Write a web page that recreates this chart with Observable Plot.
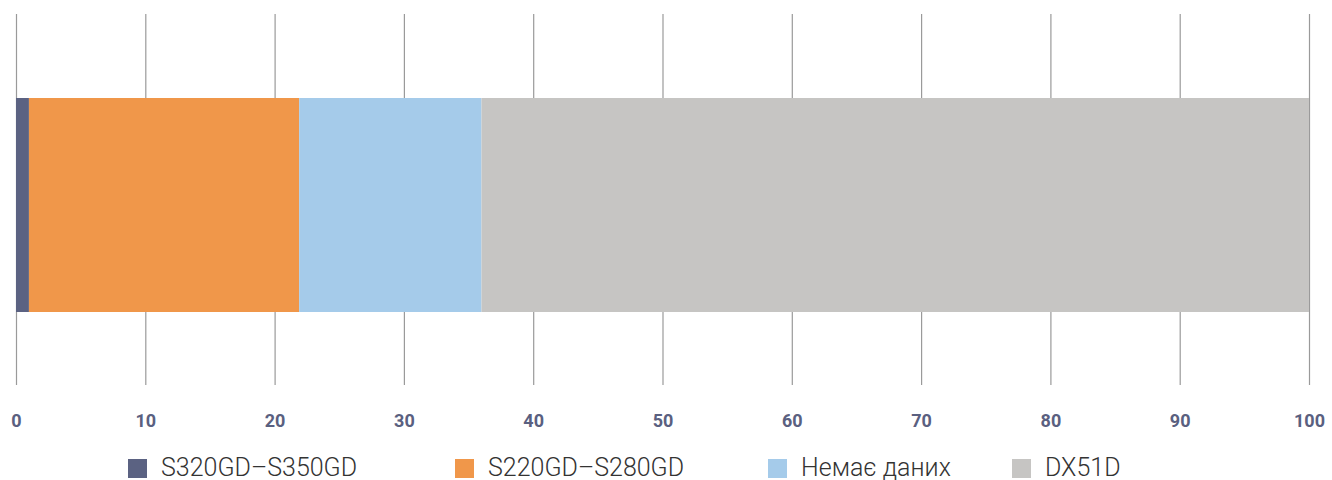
<!DOCTYPE html>
<html>
<head>
<meta charset="utf-8">
<script src="https://cdn.jsdelivr.net/npm/d3@7"></script>
<script src="https://cdn.jsdelivr.net/npm/@observablehq/plot@0.6"></script>
<style>
  body { margin: 0; background: #fff; font-family: Roboto, "DejaVu Sans", sans-serif; }
  #wrap { position: relative; width: 1332px; }
  #legend { position: relative; height: 40px; }
  .item { position: absolute; top: 13px; display: flex; align-items: center; font-size: 25px; line-height: 30px; font-weight: 300; color: #333; }
  .sw { width: 19px; height: 19px; margin-right: 14px; }
</style>
</head>
<body>
<div id="wrap">
  <div id="chart"></div>
  <div id="legend"></div>
</div>
<script>
const categories = ["S320GD–S350GD", "S220GD–S280GD", "Немає даних", "DX51D"];
const values = [1, 20.9, 14.1, 64];
const colors = ["#5b6282", "#f0974a", "#a5cbea", "#c6c5c3"];
const xTicks = [0, 10, 20, 30, 40, 50, 60, 70, 80, 90, 100];

const data = categories.map((c, i) => ({ cat: c, value: values[i], row: "row" }));

const chart = Plot.plot({
  width: 1332,
  height: 440,
  marginLeft: 16,
  marginRight: 23,
  marginTop: 14,
  marginBottom: 55,
  style: { fontFamily: "Roboto, sans-serif" },
  x: { domain: [0, 100], ticks: xTicks, label: null },
  y: { domain: ["row"], axis: null, paddingInner: 0, paddingOuter: 0.363, align: 0.532 },
  color: { domain: categories, range: colors },
  marks: [
    Plot.ruleX(xTicks, { stroke: "#9a9a9a", strokeWidth: 1.2 }),
    Plot.barX(data, { x: "value", y: "row", fill: "cat" }),
    Plot.axisX({ ticks: xTicks, tickSize: 0, tickPadding: 29, label: null, fontSize: 18, fontWeight: "bold", fill: "#5a6080" })
  ]
});
document.getElementById("chart").appendChild(chart);

const legendPos = [128, 455, 768, 1012];
const legend = document.getElementById("legend");
categories.forEach((c, i) => {
  const it = document.createElement("div");
  it.className = "item";
  it.style.left = legendPos[i] + "px";
  it.innerHTML = `<span class="sw" style="background:${colors[i]}"></span><span>${c}</span>`;
  legend.appendChild(it);
});
</script>
</body>
</html>
